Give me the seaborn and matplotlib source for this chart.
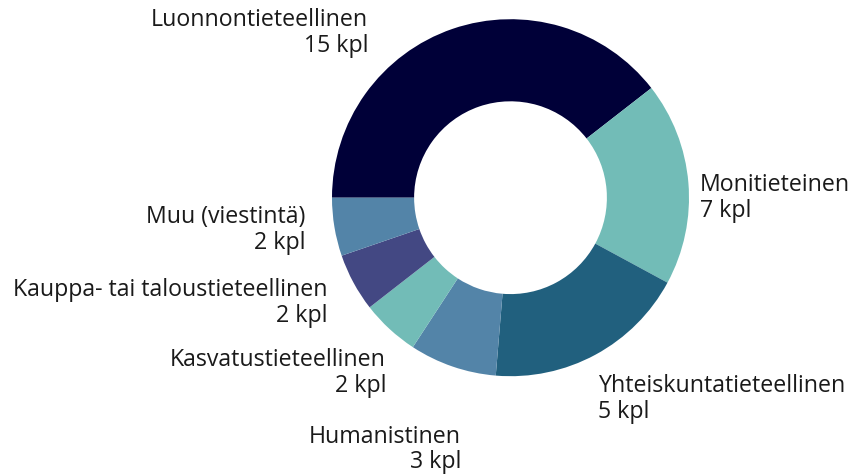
import matplotlib
matplotlib.use("Agg")
import seaborn as sns
from matplotlib import pyplot as plt

# Categories (clockwise from 9 o'clock)
fields = ["Luonnontieteellinen", "Monitieteinen", "Yhteiskuntatieteellinen",
          "Humanistinen", "Kasvatustieteellinen",
          "Kauppa- tai taloustieteellinen", "Muu (viestintä)"]
# Wedge sizes as drawn in the picture
wedge_sizes = [15, 7, 7, 3, 2, 2, 2]
# Counts shown in the labels
label_counts = [15, 7, 5, 3, 2, 2, 2]
colors = ["#000038", "#72bcb7", "#21607e", "#5384a8",
          "#72bcb7", "#434883", "#5384a8"]

sns.set_theme(style="white")
plt.rcParams["font.family"] = ["Open Sans", "DejaVu Sans"]

W, H = 855, 474
cx, cy, r = 510.5, 197.7, 178.5

fig = plt.figure(figsize=(W / 100, H / 100), dpi=100)
ax = fig.add_axes([(cx - r) / W, 1 - (cy + r) / H, 2 * r / W, 2 * r / H])

ax.pie(wedge_sizes, colors=sns.color_palette(colors), startangle=180,
       counterclock=False, radius=1,
       wedgeprops={"width": 0.46, "linewidth": 0})
ax.set_xlim(-1, 1)
ax.set_ylim(-1, 1)
ax.axis("off")

# label anchor positions in pixels: (x, y, alignment)
label_pos = [(368, 33, "right"), (700, 198, "left"), (598, 399, "left"),
             (461, 449.5, "right"), (386, 373, "right"), (327, 303, "right"),
             (305, 230, "right")]

for name, n, (px, py, ha) in zip(fields, label_counts, label_pos):
    ax.text((px - cx) / r, (cy - py) / r, f"{name}\n{n} kpl",
            ha=ha, va="center", multialignment=ha, fontsize=16.7,
            color="#1a1a1a", linespacing=1.1, clip_on=False)

fig.savefig("out.png", dpi=100)
